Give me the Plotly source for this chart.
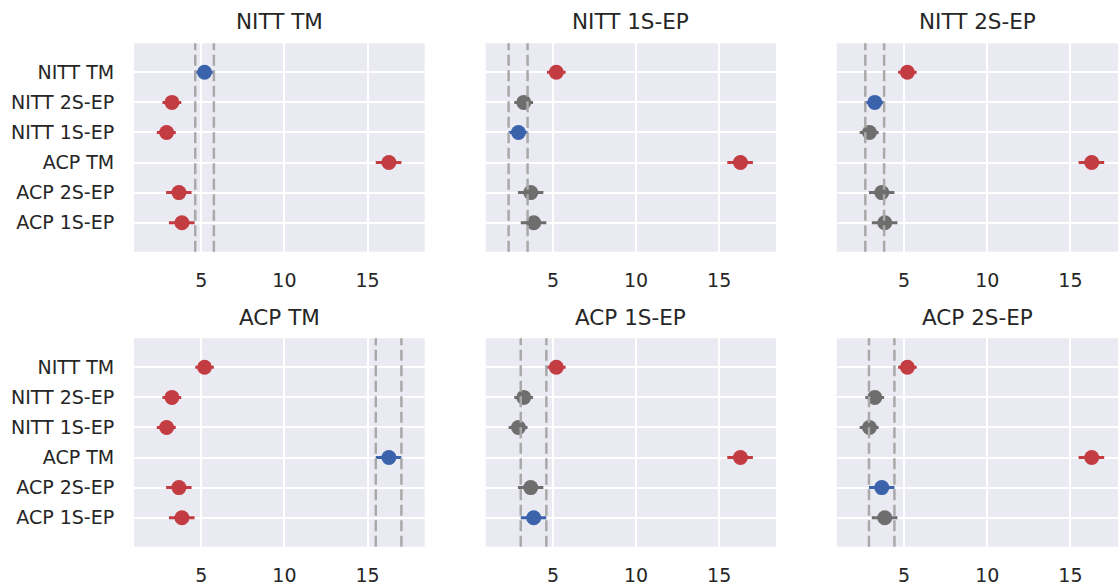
import plotly.graph_objects as go

# ---- data ----
methods = ["NITT TM", "NITT 2S-EP", "NITT 1S-EP", "ACP TM", "ACP 2S-EP", "ACP 1S-EP"]
means = [5.20, 3.24, 2.92, 16.28, 3.66, 3.84]
ci_low = [4.64, 2.67, 2.33, 15.49, 2.89, 3.06]
ci_high = [5.76, 3.80, 3.47, 17.03, 4.42, 4.60]
panel_refs = ["NITT TM", "NITT 1S-EP", "NITT 2S-EP", "ACP TM", "ACP 1S-EP", "ACP 2S-EP"]
x_ticks = [5, 10, 15]

# ---- style ----
W, H = 1118, 585
BG = "#EAEAF2"
RED = "#C23C42"
BLUE = "#3B63AC"
GRAY = "#6E6E6E"
DASH = "#A9A9A9"
TXT = "#262626"
FONT = "DejaVu Sans"

col_px = [(134.0, 424.7), (485.7, 776.0), (836.7, 1118.0)]
row_px = [(43.3, 251.7), (338.3, 546.7)]
x_ranges = [[0.96, 18.43], [0.95, 18.42], [0.95, 17.86]]
title_y_px = [22.0, 317.0]

fig = go.Figure()
layout = {}

def status_color(ref_i, i):
    if i == ref_i:
        return BLUE
    overlap = not (ci_high[i] < ci_low[ref_i] or ci_low[i] > ci_high[ref_i])
    return GRAY if overlap else RED

shapes = []
annotations = []
for p, ref in enumerate(panel_refs):
    r, c = divmod(p, 3)
    n = p + 1
    xa = "x" if n == 1 else f"x{n}"
    ya = "y" if n == 1 else f"y{n}"
    xkey = "xaxis" if n == 1 else f"xaxis{n}"
    ykey = "yaxis" if n == 1 else f"yaxis{n}"
    x0, x1 = col_px[c]
    yt, yb = row_px[r]
    layout[xkey] = dict(
        domain=[x0 / W, x1 / W], anchor=ya, range=x_ranges[c],
        tickvals=x_ticks, ticktext=[str(v) for v in x_ticks],
        showgrid=True, gridcolor="white", gridwidth=1.6, zeroline=False,
        showline=False, ticks="outside", ticklen=11, tickcolor="rgba(0,0,0,0)",
        tickfont=dict(family=FONT, size=19, color=TXT), automargin=False,
    )
    layout[ykey] = dict(
        domain=[1 - yb / H, 1 - yt / H], anchor=xa, range=[5.965, -0.965],
        tickvals=list(range(len(methods))),
        ticktext=methods if c == 0 else [""] * len(methods),
        showticklabels=(c == 0),
        showgrid=True, gridcolor="white", gridwidth=1.6, zeroline=False,
        showline=False, ticks="outside", ticklen=15, tickcolor="rgba(0,0,0,0)",
        tickfont=dict(family=FONT, size=19, color=TXT), automargin=False,
    )
    ref_i = methods.index(ref)
    # dashed reference lines at CI of reference method
    for xv in (ci_low[ref_i], ci_high[ref_i]):
        shapes.append(dict(
            type="line", xref=xa, yref=f"{ya} domain", x0=xv, x1=xv, y0=0, y1=1,
            line=dict(color=DASH, width=2.5, dash="11px,4.5px"), layer="above",
        ))
    for i, m in enumerate(methods):
        col = status_color(ref_i, i)
        fig.add_trace(go.Scatter(
            x=[means[i]], y=[i], xaxis=xa, yaxis=ya, mode="markers",
            marker=dict(size=15, color=col),
            error_x=dict(type="data", symmetric=False,
                         array=[ci_high[i] - means[i]],
                         arrayminus=[means[i] - ci_low[i]],
                         color=col, thickness=3, width=0),
            showlegend=False, name=m, cliponaxis=False,
        ))
    annotations.append(dict(
        text=ref, xref="paper", yref="paper",
        x=(x0 + x1) / 2 / W, y=1 - title_y_px[r] / H,
        xanchor="center", yanchor="middle", showarrow=False,
        font=dict(family=FONT, size=21.5, color=TXT),
    ))

fig.update_layout(
    width=W, height=H, margin=dict(l=0, r=0, t=0, b=0),
    paper_bgcolor="white", plot_bgcolor=BG,
    shapes=shapes, annotations=annotations, showlegend=False,
    font=dict(family=FONT, color=TXT),
    **layout,
)
fig.write_html(
    "out.html",
    config={"displayModeBar": False},
    post_script="document.body.style.margin='0';document.body.style.padding='0';document.body.style.overflow='hidden';",
)
